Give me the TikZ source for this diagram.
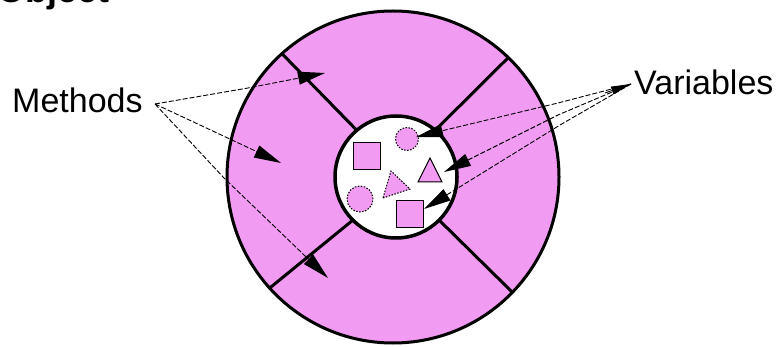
\documentclass[tikz,border=0pt]{standalone}
\usepackage{fontspec}
\setmainfont{Liberation Sans}
\usetikzlibrary{arrows.meta}
\definecolor{objpink}{RGB}{242,155,242}
\tikzset{
  wall/.style={draw=black,line width=3pt},
  leader/.style={draw=black,line width=0.9pt,dash pattern=on 5pt off 2pt},
  bighead/.style={-{Triangle[length=27pt,width=13pt]}},
  solidshape/.style={draw=black,line width=1pt,fill=objpink},
  dotshape/.style={draw=black,line width=1pt,fill=objpink,dash pattern=on 1.5pt off 1.5pt},
  lbl/.style={font=\fontsize{34}{40}\selectfont,inner sep=0pt}
}
\begin{document}
\begin{tikzpicture}[x=1pt,y=-1pt]
\useasboundingbox (0,0) rectangle (776,347);
% title, cut off by the top edge as in the reference
\node[font=\bfseries\fontsize{36}{40}\selectfont,inner sep=0pt,anchor=base west] (object) at (-3,3) {Object};
% outer body
\node[wall,fill=objpink,circle,minimum size=332pt,inner sep=0pt,outer sep=0pt] (outer) at (393,177) {};
% inner core
\node[circle,minimum size=122pt,inner sep=0pt,outer sep=0pt] (innerc) at (396,177) {};
\draw[wall] (innerc.130) -- (outer.132);
\draw[wall] (innerc.50) -- (outer.46);
\draw[wall] (innerc.225) -- (outer.222);
\draw[wall] (innerc.-45) -- (outer.-44);
\node[draw=black,line width=3.5pt,fill=white,circle,minimum size=122pt,inner sep=0pt,outer sep=0pt] (inner) at (396,177) {};
% variables inside
\node[solidshape,minimum size=27pt,inner sep=0pt] (sq1) at (366.5,156.5) {};
\node[dotshape,circle,minimum size=23pt,inner sep=0pt] (ci1) at (407,139) {};
\coordinate (t1a) at (418,182); \coordinate (t1b) at (442,182); \coordinate (t1c) at (430,158);
\draw[solidshape] (t1a) -- (t1b) -- (t1c) -- cycle;
\coordinate (t2a) at (383,198); \coordinate (t2b) at (410,189); \coordinate (t2c) at (391,171);
\draw[dotshape] (t2a) -- (t2b) -- (t2c) -- cycle;
\node[dotshape,circle,minimum size=26pt,inner sep=0pt] (ci2) at (360,199) {};
\node[solidshape,minimum size=27pt,inner sep=0pt] (sq2) at (409.5,214) {};
% labels
\node[lbl,anchor=base west] (methods) at (12,113) {Methods};
\node[lbl,anchor=base west] (variables) at (634,95) {Variables};
\coordinate (mtip) at (155,104);
\coordinate (vtip) at (631,84);
% method leaders
\coordinate (m1) at (248,88);  \coordinate (m1h) at (325,73);
\coordinate (m2) at (232,140); \coordinate (m2h) at (281,163);
\coordinate (m3) at (224,178); \coordinate (m3h) at (328,278);
\draw[leader,bighead] (mtip) -- (m1) -- (m1h);
\draw[leader,bighead] (mtip) -- (m2) -- (m2h);
\draw[leader,bighead] (mtip) -- (m3) -- (m3h);
% variable leaders
\coordinate (v1) at (558,103); \coordinate (v1h) at (416,137);
\coordinate (v2) at (558,115); \coordinate (v2h) at (444,172);
\coordinate (v3) at (560,125); \coordinate (v3h) at (424,209);
\draw[leader,bighead] (vtip) -- (v1) -- (v1h);
\draw[leader,bighead] (vtip) -- (v2) -- (v2h);
\draw[leader,bighead] (vtip) -- (v3) -- (v3h);
\coordinate (vs) at (605,93);
\draw[line width=0.9pt,-{Triangle[length=20pt,width=8pt]}] (vs) -- (vtip);
\end{tikzpicture}
\end{document}
